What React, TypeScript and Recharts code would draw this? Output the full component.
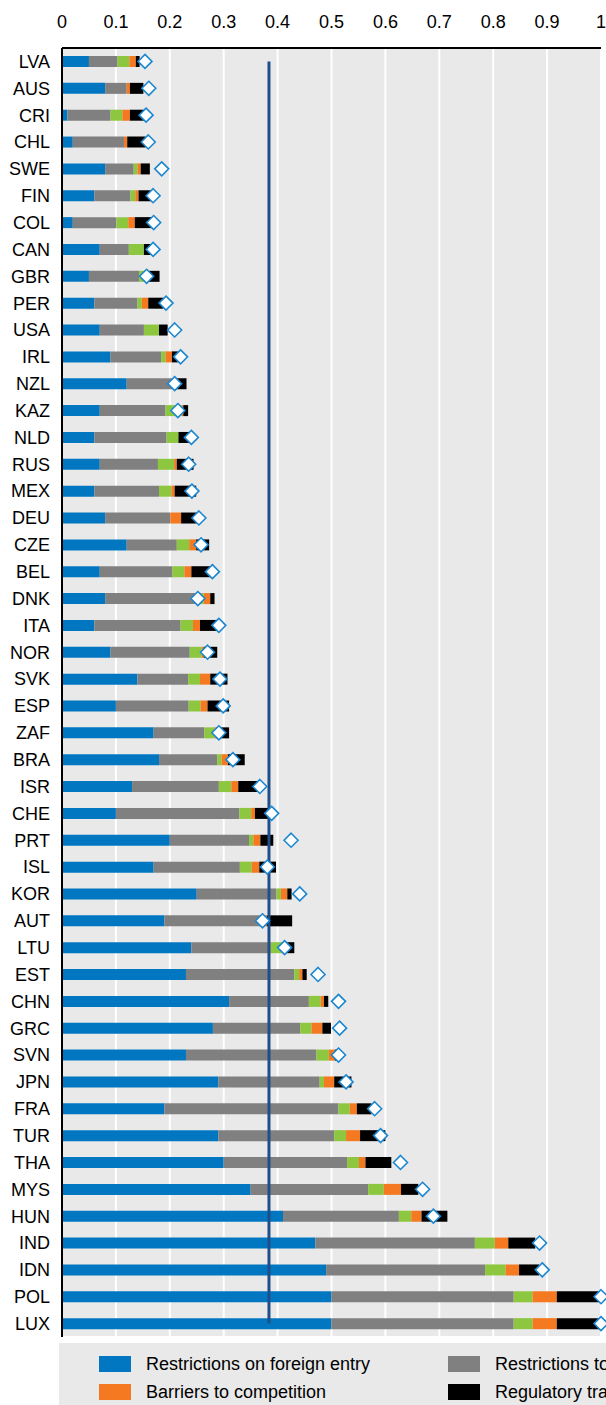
import React from "react";
import {
  ComposedChart,
  Bar,
  Line,
  XAxis,
  YAxis,
  CartesianGrid,
  ReferenceLine,
} from "recharts";

const codes = [
  "LVA", "AUS", "CRI", "CHL", "SWE", "FIN", "COL", "CAN", "GBR", "PER", "USA", "IRL",
  "NZL", "KAZ", "NLD", "RUS", "MEX", "DEU", "CZE", "BEL", "DNK", "ITA", "NOR", "SVK",
  "ESP", "ZAF", "BRA", "ISR", "CHE", "PRT", "ISL", "KOR", "AUT", "LTU", "EST", "CHN",
  "GRC", "SVN", "JPN", "FRA", "TUR", "THA", "MYS", "HUN", "IND", "IDN", "POL", "LUX",
];

const foreignEntry = [
  0.05, 0.08, 0.01, 0.02, 0.08, 0.06, 0.02, 0.07, 0.05, 0.06, 0.07, 0.09,
  0.12, 0.07, 0.06, 0.07, 0.06, 0.08, 0.12, 0.07, 0.08, 0.06, 0.09, 0.14,
  0.1, 0.17, 0.18, 0.13, 0.1, 0.2, 0.17, 0.25, 0.19, 0.24, 0.23, 0.31,
  0.28, 0.23, 0.29, 0.19, 0.29, 0.3, 0.35, 0.41, 0.47, 0.49, 0.5, 0.5,
];

const movementPeople = [
  0.053, 0.04, 0.08, 0.095, 0.053, 0.067, 0.081, 0.054, 0.093, 0.08, 0.082, 0.094,
  0.092, 0.122, 0.134, 0.108, 0.12, 0.121, 0.093, 0.135, 0.179, 0.16, 0.147, 0.094,
  0.135, 0.094, 0.108, 0.161, 0.229, 0.147, 0.16, 0.148, 0.182, 0.147, 0.201, 0.148,
  0.162, 0.242, 0.188, 0.323, 0.215, 0.229, 0.218, 0.215, 0.296, 0.295, 0.338, 0.338,
];

const otherDiscrimination = [
  0.022, 0, 0.022, 0, 0.007, 0.009, 0.022, 0.028, 0.009, 0.008, 0.028, 0.008,
  0, 0.03, 0.022, 0.03, 0.023, 0, 0.023, 0.022, 0.004, 0.023, 0.022, 0.022,
  0.022, 0.019, 0.008, 0.023, 0.022, 0.008, 0.022, 0.008, 0, 0.022, 0.009, 0.022,
  0.021, 0.023, 0.008, 0.021, 0.022, 0.022, 0.029, 0.023, 0.037, 0.038, 0.035, 0.035,
];

const competition = [
  0.012, 0.006, 0.014, 0.006, 0.006, 0.006, 0.012, 0, 0, 0.012, 0, 0.012,
  0, 0.003, 0, 0.005, 0.006, 0.02, 0.013, 0.013, 0.012, 0.013, 0.004, 0.019,
  0.013, 0.003, 0.012, 0.013, 0.007, 0.013, 0.014, 0.012, 0.008, 0, 0.006, 0.006,
  0.02, 0.011, 0.019, 0.013, 0.026, 0.012, 0.032, 0.019, 0.025, 0.025, 0.045, 0.045,
];

const transparency = [
  0.007, 0.025, 0.026, 0.034, 0.017, 0.025, 0.031, 0.017, 0.029, 0.028, 0.016, 0.011,
  0.019, 0.009, 0.023, 0.031, 0.04, 0.029, 0.024, 0.038, 0.008, 0.034, 0.025, 0.032,
  0.04, 0.024, 0.031, 0.037, 0.025, 0.024, 0.031, 0.008, 0.047, 0.022, 0.008, 0.008,
  0.016, 0.004, 0.032, 0.027, 0.047, 0.048, 0.032, 0.048, 0.05, 0.037, 0.08, 0.08,
];

const marker = [
  0.154, 0.161, 0.156, 0.16, 0.185, 0.169, 0.17, 0.169, 0.157, 0.193, 0.209, 0.22,
  0.209, 0.215, 0.24, 0.235, 0.241, 0.254, 0.258, 0.279, 0.252, 0.291, 0.27, 0.293,
  0.299, 0.291, 0.317, 0.367, 0.389, 0.425, 0.381, 0.441, 0.372, 0.413, 0.475, 0.513,
  0.515, 0.513, 0.527, 0.58, 0.591, 0.628, 0.669, 0.689, 0.886, 0.891, 1, 1,
];

const average = 0.384;

const xTicks = [0, 0.1, 0.2, 0.3, 0.4, 0.5, 0.6, 0.7, 0.8, 0.9, 1];

const data = codes.map((code, i) => ({
  code,
  foreignEntry: foreignEntry[i],
  movementPeople: movementPeople[i],
  otherDiscrimination: otherDiscrimination[i],
  competition: competition[i],
  transparency: transparency[i],
  marker: marker[i],
}));

// row boundaries for the white horizontal grid and the small axis ticks
const rowEdges = codes.map((_, i) => i).concat(codes.length);

const FONT = "'Liberation Sans', Arial, sans-serif";

const Diamond = (props: any) => {
  const { cx, cy } = props;
  if (cx == null || cy == null) return null;
  const r = 7;
  return (
    <path
      d={`M${cx},${cy - r} L${cx + r},${cy} L${cx},${cy + r} L${cx - r},${cy} Z`}
      fill="#ffffff"
      stroke="#1b87d0"
      strokeWidth={1.6}
    />
  );
};

const legendItems = [
  { label: "Restrictions on foreign entry", color: "#0077c0", left: 99, top: 1356 },
  { label: "Barriers to competition", color: "#f47920", left: 99, top: 1384 },
  { label: "Restrictions to movement of people", color: "#808080", left: 448, top: 1356 },
  { label: "Regulatory transparency", color: "#000000", left: 448, top: 1384 },
];

const App = () => {
  return (
    <div
      style={{
        position: "absolute",
        left: 0,
        top: 0,
        width: 606,
        height: 1405,
        overflow: "hidden",
        background: "#ffffff",
        fontFamily: FONT,
      }}
    >
      <ComposedChart
        layout="vertical"
        width={640}
        height={1337}
        data={data}
        margin={{ top: 0, right: 39, bottom: 0, left: 0 }}
        style={{ fontFamily: FONT }}
      >
        <CartesianGrid
          xAxisId="lab"
          yAxisId="grid"
          fill="#e9e9e9"
          stroke="#ffffff"
          strokeWidth={2}
        />
        <XAxis
          xAxisId="lab"
          type="number"
          orientation="top"
          domain={[0, 1]}
          ticks={xTicks}
          height={48}
          tickSize={0}
          tickMargin={20}
          tickLine={false}
          axisLine={{ stroke: "#000", strokeWidth: 2 }}
          tick={{ fontSize: 18, fill: "#000" }}
        />
        <XAxis
          xAxisId="tk"
          type="number"
          orientation="top"
          mirror
          height={0}
          domain={[0, 1]}
          ticks={xTicks}
          tickSize={5}
          tick={false}
          axisLine={false}
          tickLine={{ stroke: "#000", strokeWidth: 2 }}
        />
        <YAxis
          yAxisId="cat"
          type="category"
          dataKey="code"
          width={62}
          interval={0}
          tickSize={0}
          tickMargin={12}
          tickLine={false}
          axisLine={{ stroke: "#000", strokeWidth: 2 }}
          tick={{ fontSize: 18, fill: "#000" }}
        />
        <YAxis
          yAxisId="grid"
          type="number"
          mirror
          width={0}
          domain={[0, codes.length]}
          allowDataOverflow
          ticks={rowEdges}
          tickSize={5}
          tick={false}
          axisLine={false}
          tickLine={{ stroke: "#000", strokeWidth: 2 }}
        />
        <Bar xAxisId="lab" yAxisId="cat" dataKey="foreignEntry" stackId="s" fill="#0077c0" barSize={11} isAnimationActive={false} />
        <Bar xAxisId="lab" yAxisId="cat" dataKey="movementPeople" stackId="s" fill="#808080" barSize={11} isAnimationActive={false} />
        <Bar xAxisId="lab" yAxisId="cat" dataKey="otherDiscrimination" stackId="s" fill="#8dc63f" barSize={11} isAnimationActive={false} />
        <Bar xAxisId="lab" yAxisId="cat" dataKey="competition" stackId="s" fill="#f47920" barSize={11} isAnimationActive={false} />
        <Bar xAxisId="lab" yAxisId="cat" dataKey="transparency" stackId="s" fill="#000000" barSize={11} isAnimationActive={false} />
        <ReferenceLine
          xAxisId="lab"
          yAxisId="cat"
          segment={[
            { x: average, y: codes[0] },
            { x: average, y: codes[codes.length - 1] },
          ]}
          stroke="#1f4e8a"
          strokeWidth={3}
        />
        <Line
          xAxisId="lab"
          yAxisId="cat"
          dataKey="marker"
          stroke="none"
          dot={<Diamond />}
          activeDot={false}
          legendType="none"
          isAnimationActive={false}
        />
      </ComposedChart>
      <div
        style={{
          position: "absolute",
          left: 59,
          top: 1343,
          width: 700,
          height: 62,
          background: "#e9e9e9",
        }}
      />
      {legendItems.map((item) => (
        <div
          key={item.label}
          style={{
            position: "absolute",
            left: item.left,
            top: item.top,
            display: "flex",
            alignItems: "center",
            whiteSpace: "nowrap",
            fontSize: 18,
            color: "#000",
            height: 16,
          }}
        >
          <span
            style={{
              display: "inline-block",
              width: 32,
              height: 16,
              background: item.color,
              marginRight: 15,
            }}
          />
          <span>{item.label}</span>
        </div>
      ))}
    </div>
  );
};

export default App;
